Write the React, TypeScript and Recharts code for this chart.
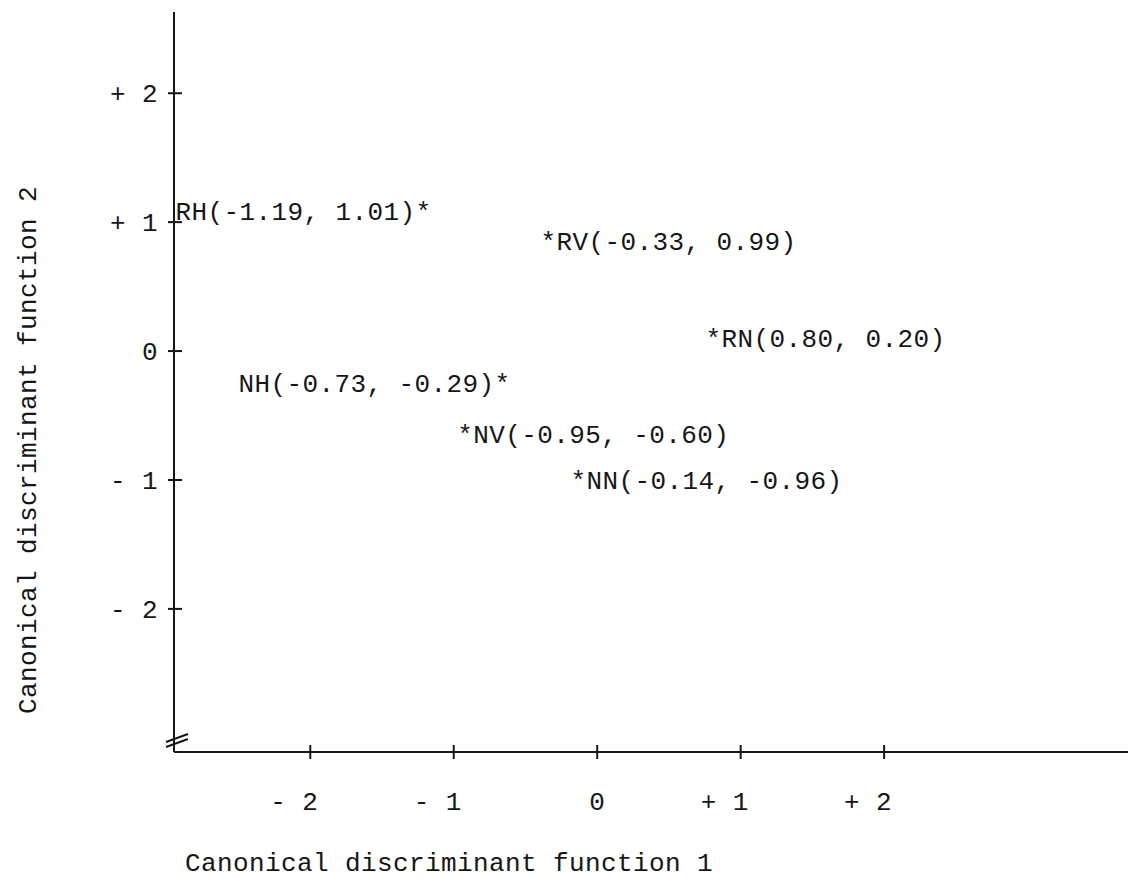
import React from "react";
import { Scatter, ScatterChart, XAxis, YAxis } from "recharts";

const GROUPS = ["RH", "RV", "RN", "NH", "NV", "NN"];
const FN1 = [-1.21, -0.34, 0.81, -0.66, -0.92, -0.13];
const FN2 = [1.09, 0.85, 0.1, -0.25, -0.64, -1.0];
const LABELS = [
  "RH(-1.19, 1.01)*",
  "*RV(-0.33, 0.99)",
  "*RN(0.80, 0.20)",
  "NH(-0.73, -0.29)*",
  "*NV(-0.95, -0.60)",
  "*NN(-0.14, -0.96)",
];

const X_TICKS = [-2, -1, 0, 1, 2];
const X_TICK_LABELS = ["- 2", "- 1", "0", "+ 1", "+ 2"];
const Y_TICKS = [-2, -1, 0, 1, 2];
const Y_TICK_LABELS = ["- 2", "- 1", "0", "+ 1", "+ 2"];

const X_TITLE = "Canonical discriminant function 1";
const Y_TITLE = "Canonical discriminant function 2";

const data = GROUPS.map((g, i) => ({ group: g, x: FN1[i], y: FN2[i], label: LABELS[i] }));

const INK = "#161616";
const FONT = "'Liberation Mono', 'DejaVu Sans Mono', monospace";
const textStyle = { fontFamily: FONT, fontSize: 26, letterSpacing: 0.4, fill: INK };

function XTick(props: any) {
  const { x, y, payload } = props;
  const i = X_TICKS.indexOf(payload.value);
  return (
    <g>
      <line x1={x} x2={x} y1={y - 7} y2={y + 7} stroke={INK} strokeWidth={2} />
      <text x={x + 8} y={810} textAnchor="end" style={textStyle}>
        {X_TICK_LABELS[i]}
      </text>
    </g>
  );
}

function YTick(props: any) {
  const { x, y, payload } = props;
  const i = Y_TICKS.indexOf(payload.value);
  return (
    <g>
      <line x1={x - 6} x2={x + 8} y1={y} y2={y} stroke={INK} strokeWidth={2} />
      <text x={158} y={y + 9} textAnchor="end" style={textStyle}>
        {Y_TICK_LABELS[i]}
      </text>
    </g>
  );
}

function StarLabel(props: any) {
  const { cx, cy, payload } = props;
  const trailing = payload.label.endsWith("*");
  return (
    <text
      x={trailing ? cx + 8 : cx - 8}
      y={cy + 9}
      textAnchor={trailing ? "end" : "start"}
      style={textStyle}
    >
      {payload.label}
    </text>
  );
}

export default function App() {
  return (
    <div style={{ position: "absolute", left: 0, top: 0, width: 1128, height: 878, background: "#fff" }}>
      <ScatterChart width={1128} height={878} margin={{ top: 12, right: 0, bottom: 66, left: 154 }}>
        <XAxis
          type="number"
          dataKey="x"
          domain={[-2.95, 3.7]}
          ticks={X_TICKS}
          height={60}
          tickSize={0}
          tickMargin={0}
          tick={<XTick />}
          axisLine={{ stroke: INK, strokeWidth: 2 }}
          allowDataOverflow
        />
        <YAxis
          type="number"
          dataKey="y"
          domain={[-3.11, 2.63]}
          ticks={Y_TICKS}
          width={20}
          tickSize={0}
          tickMargin={0}
          tick={<YTick />}
          axisLine={{ stroke: INK, strokeWidth: 2 }}
          allowDataOverflow
        />
        <Scatter data={data} shape={<StarLabel />} isAnimationActive={false} />
      </ScatterChart>
      <svg width={1128} height={878} style={{ position: "absolute", left: 0, top: 0, pointerEvents: "none" }}>
        {/* axis break */}
        <line x1={166} y1={742} x2={188} y2={734} stroke={INK} strokeWidth={2} />
        <line x1={166} y1={747} x2={188} y2={739} stroke={INK} strokeWidth={2} />
        <text x={27} y={450} dy={9} textAnchor="middle" transform="rotate(-90 27 450)" style={textStyle}>
          {Y_TITLE}
        </text>
        <text x={449} y={871} textAnchor="middle" style={textStyle}>
          {X_TITLE}
        </text>
      </svg>
    </div>
  );
}
